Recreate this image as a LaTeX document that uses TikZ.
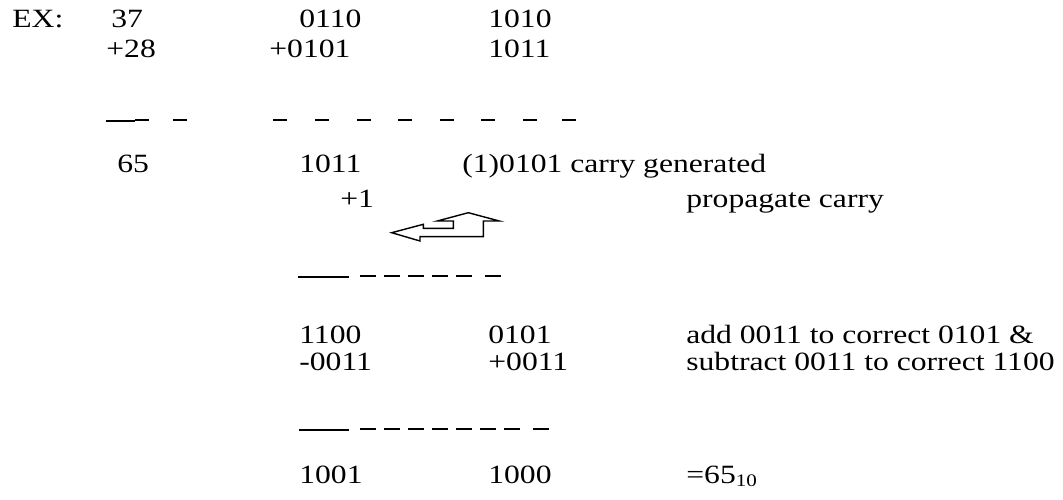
\documentclass[tikz,border=0pt]{standalone}
\usepackage{fontspec}
\setmainfont{Liberation Serif}[FakeStretch=1.2]
\begin{document}
\begin{tikzpicture}[x=0.02cm, y=-0.02cm,
    every node/.style = {anchor=base west, inner sep=0pt,
    font=\fontsize{15}{18}\selectfont},
    solidrule/.style = {line width=1.3pt},
    dashmark/.style = {line width=1pt}]
  \useasboundingbox (0,0) rectangle (1063,500);
  % the sums
  \node (ex) at (12,28) {EX:};
  \node (dA) at (111,28) {37};
  \node (dB) at (106,58) {+28};
  \node (bA) at (299,28) {0110};
  \node (bB) at (269,58) {+0101};
  \node (cA) at (488,28) {1010};
  \node (cB) at (488,58) {1011};
  \draw[solidrule] (106,121) -- (135,121);
  \foreach \x in {135,173,273,315,357,398,440,481,523,562}
    \draw[dashmark] (\x,120) -- ++(14,0);
  \node (dS) at (117,173) {65};
  \node (bS) at (299,173) {1011};
  \node (cS) at (462,173) {(1)0101 carry generated};
  \node (one) at (340,208) {+1};
  \node (prop) at (686,208) {propagate carry};
  % carry arrow
  \draw[line width=0.8pt] (391.7,232.7) -- (423.3,224.3) -- (423.3,228.3)
    -- (453.3,228.3) -- (453.3,221) -- (437.3,221) -- (468.3,212.7)
    -- (499.3,221) -- (483.3,221) -- (483.3,236.7) -- (420,236.7)
    -- (420,241) -- cycle;
  \draw[solidrule] (298,277) -- (349,277);
  \foreach \x in {360,384,408,432,456,485}
    \draw[dashmark] (\x,276) -- ++(16,0);
  % correction
  \node (bT) at (299,343) {1100};
  \node (bC) at (299,371) {-0011};
  \node (cT) at (488,343) {0101};
  \node (cC) at (488,371) {+0011};
  \node (addc) at (686,343) {add 0011 to correct 0101 \&};
  \node (subc) at (686,371) {subtract 0011 to correct 1100};
  \draw[solidrule] (299,430) -- (349,430);
  \foreach \x in {360,384,408,432,456,480,504,533}
    \draw[dashmark] (\x,429) -- ++(16,0);
  \node (bR) at (299,483) {1001};
  \node (cR) at (488,483) {1000};
  \node (res) at (686,483) {=65\raisebox{-2pt}{\fontsize{10}{12}\selectfont 10}};
\end{tikzpicture}
\end{document}
